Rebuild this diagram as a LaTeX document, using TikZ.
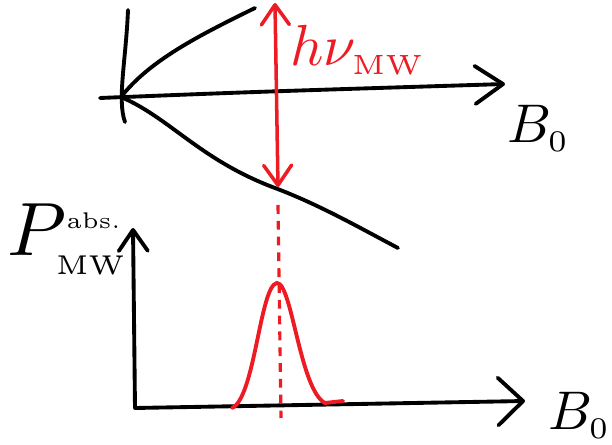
\documentclass[tikz,border=0pt]{standalone}
\usepackage{amsmath,amssymb}
\usetikzlibrary{arrows.meta}
\definecolor{sketchred}{RGB}{237,28,36}
\newcommand{\tinyidx}[2]{\text{\fontsize{#1}{#1}\selectfont #2}}

\begin{document}
\begin{tikzpicture}[
  x=0.02cm, y=-0.02cm,
  axis/.style={line width=2.2pt, line cap=round, line join=round},
  level/.style={line width=2.2pt, line cap=round},
  trans/.style={{Straight Barb[length=4mm,width=5.6mm,round]}-{Straight Barb[length=4mm,width=5.6mm,round]}, line width=2pt, color=sketchred},
  guide/.style={line width=1.8pt, dash pattern=on 5pt off 4pt, color=sketchred},
  peak/.style={line width=2.2pt, line cap=round, color=sketchred},
  lbl/.style={inner sep=0pt, anchor=base west},
]
  \useasboundingbox (0,0) rectangle (612,445);

  % Zeeman levels
  \coordinate (zero) at (121,97);
  \coordinate (bfield-end) at (505,84);
  \draw[axis] (128,10) .. controls (126,60) and (117,100) .. (125,122);
  \draw[axis, -{Straight Barb[length=5.6mm,width=7.6mm,round]}] (100,98) .. controls (250,92) .. (bfield-end);
  \draw[level] (zero) .. controls (150,60) and (200,35) .. (255,8);
  \draw[level] (zero) .. controls (170,118) and (200,160) .. (275,188)
    .. controls (320,205) and (360,228) .. (398,248);

  \coordinate (upper) at (275,3);
  \coordinate (lower) at (278,187);
  \draw[trans] (upper) -- (lower);
  \node[lbl, text=sketchred, scale=3.3] (hnu) at (289,66) {$h\nu_{\tinyidx{4.8}{MW}}$};
  \node[lbl, scale=3.1] (bfield-top) at (506,143) {$B_{\tinyidx{5.5}{0}}$};

  % absorption spectrum
  \coordinate (origin) at (135,408);
  \coordinate (ytip) at (133,228);
  \coordinate (xtip) at (525,401);
  \draw[axis, {Straight Barb[length=4.2mm,width=5.8mm,round]}-{Straight Barb[length=5mm,width=9.5mm,round]}]
    (ytip) -- (origin) -- (xtip);
  \node[lbl, scale=4.3] (pabs) at (6,256) {$P^{\tinyidx{3}{abs.}}_{\tinyidx{3.6}{MW}}$};
  \node[lbl, scale=3.1] (bfield-bottom) at (547,430) {$B_{\tinyidx{5.5}{0}}$};

  \coordinate (res-top) at (278,205);
  \coordinate (res-bottom) at (281,418);
  \draw[guide] (res-top) -- (res-bottom);
  \draw[peak] (232,408) .. controls (255,398) and (260,285) .. (277,283)
    .. controls (292,283) and (300,390) .. (325,403) -- (343,401);
\end{tikzpicture}
\end{document}
